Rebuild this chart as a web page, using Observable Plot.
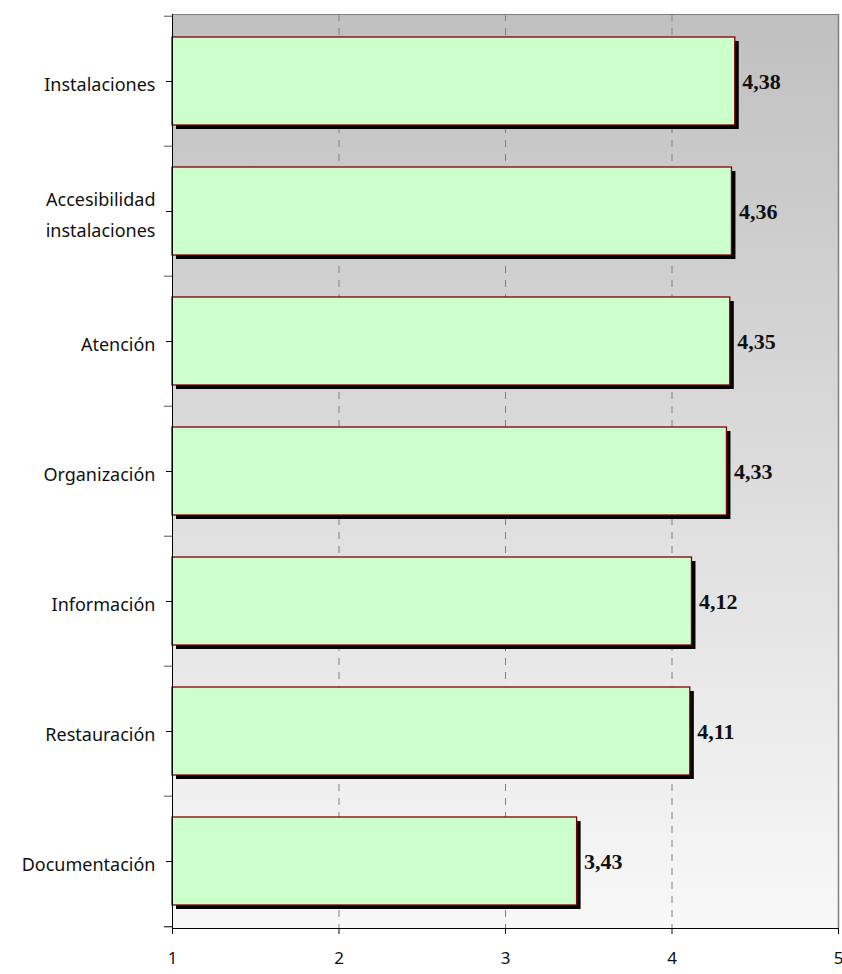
<!DOCTYPE html>
<html>
<head>
<meta charset="utf-8">
<script src="https://cdn.jsdelivr.net/npm/d3@7"></script>
<script src="https://cdn.jsdelivr.net/npm/@observablehq/plot@0.6"></script>
<style>
  html, body { margin: 0; padding: 0; background: #fff; }
  #chart svg { display: block; }
</style>
</head>
<body>
<div id="chart"></div>
<script>
const categories = ["Instalaciones", "Accesibilidad\ninstalaciones", "Atención", "Organización", "Información", "Restauración", "Documentación"];
const values = [4.38, 4.36, 4.35, 4.33, 4.12, 4.11, 3.43];
const xTicks = [1, 2, 3, 4, 5];
const gridTicks = [2, 3, 4];

const data = categories.map((c, i) => ({category: c, value: values[i]}));
const fmt = v => v.toFixed(2).replace(".", ",");

const W = 842, H = 974;
const mTop = 14, mBottom = 46, mLeft = 172, mRight = 4;
const step = (H - mTop - mBottom) / categories.length;

const chart = Plot.plot({
  width: W,
  height: H,
  marginTop: mTop,
  marginBottom: mBottom,
  marginLeft: mLeft,
  marginRight: mRight,
  style: {background: "#fff", fontFamily: "'Noto Sans', sans-serif"},
  x: {domain: [1, 5]},
  y: {domain: categories, paddingInner: 0.326, paddingOuter: 0.163},
  marks: [
    Plot.frame({fill: "url(#bgGrad)", stroke: "none"}),
    Plot.gridX(gridTicks, {stroke: "#808080", strokeOpacity: 1, strokeDasharray: "7,7", strokeWidth: 1}),
    Plot.barX(data, {y: "category", x1: 1, x2: "value", fill: "#000", dx: 4, dy: 4}),
    Plot.barX(data, {y: "category", x1: 1, x2: "value", fill: "#ccffcc", stroke: "#800000", strokeWidth: 1.3}),
    Plot.text(data, {y: "category", x: "value", text: d => fmt(d.value), textAnchor: "start", dx: 7,
      fontFamily: "'Liberation Serif', serif", fontWeight: "bold", fontSize: 22, fill: "#111",
      style: {letterSpacing: "1px"}}),
    Plot.ruleX([5], {stroke: "#808080", strokeWidth: 1.5}),
    Plot.frame({anchor: "top", stroke: "#808080"}),
    Plot.frame({anchor: "bottom", stroke: "#000"}),
    Plot.frame({anchor: "left", stroke: "#000"}),
    // category boundary ticks
    Plot.axisY({tickSize: 8, text: null, label: null, dy: -step / 2, stroke: "#555"}),
    Plot.axisY({ticks: [categories[categories.length - 1]], tickSize: 8, text: null, label: null, dy: step / 2, stroke: "#000"}),
    Plot.axisY({tickSize: 6, tickPadding: 11, fontSize: 18, lineHeight: 1.7, fill: "#111", label: null,
      style: {letterSpacing: "0.6px"}}),
    Plot.axisX({ticks: xTicks, tickSize: 6, tickPadding: 17, fontSize: 17, fill: "#111", label: null,
      tickFormat: d => String(d), stroke: "#000"})
  ]
});

// gradient background definition
const svg = d3.select(chart);
const defs = svg.insert("defs", ":first-child");
const grad = defs.append("linearGradient")
  .attr("id", "bgGrad").attr("x1", "0").attr("y1", "0").attr("x2", "0").attr("y2", "1");
grad.append("stop").attr("offset", "0%").attr("stop-color", "#c0c0c0");
grad.append("stop").attr("offset", "100%").attr("stop-color", "#f8f8f8");

document.getElementById("chart").appendChild(chart);
</script>
</body>
</html>
